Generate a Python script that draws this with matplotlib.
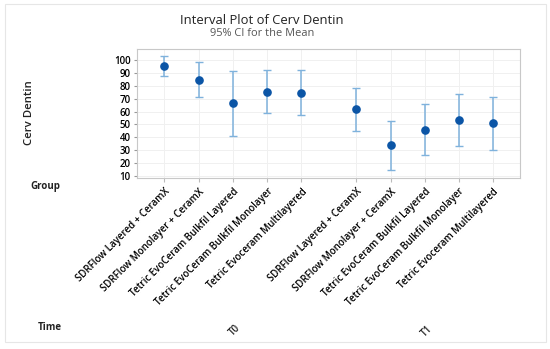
import matplotlib.pyplot as plt
from matplotlib.patches import Rectangle

# data
groups = ["SDRFlow Layered + CeramX", "SDRFlow Monolayer + CeramX",
          "Tetric EvoCeram Bulkfil Layered", "Tetric EvoCeram Bulkfil Monolayer",
          "Tetric Evoceram Multilayered"]
times = ["T0", "T1"]
means_t0 = [95.1, 84.5, 66.4, 75.4, 74.6]
low_t0 = [87.4, 71.3, 41.0, 58.6, 57.6]
high_t0 = [102.9, 98.2, 91.7, 92.2, 92.0]
means_t1 = [61.7, 33.8, 45.9, 53.5, 50.9]
low_t1 = [44.9, 14.9, 26.5, 33.0, 30.2]
high_t1 = [78.3, 52.4, 65.6, 73.4, 71.3]
yticks = [10, 20, 30, 40, 50, 60, 70, 80, 90, 100]

plt.rcParams['font.family'] = ['Open Sans', 'DejaVu Sans']

fig = plt.figure(figsize=(5.5, 3.49), dpi=100)
ax = fig.add_axes([137/550, 1-178/349, (520-137)/550, (178-49)/349])

gap = 1.6
xs, means, lows, highs, labels = [], [], [], [], []
for k, (m, lo, hi) in enumerate([(means_t0, low_t0, high_t0), (means_t1, low_t1, high_t1)]):
    for i in range(len(groups)):
        xs.append(i + k * (len(groups) - 1 + gap))
        means.append(m[i])
        lows.append(lo[i])
        highs.append(hi[i])
        labels.append(groups[i])

err = [[m - lo for m, lo in zip(means, lows)], [hi - m for m, hi in zip(means, highs)]]
ax.errorbar(xs, means, yerr=err, fmt='none', ecolor='#7fb2dc', elinewidth=1.1,
            capsize=2.6, capthick=1.0, zorder=2)
ax.plot(xs, means, 'o', color='#0b55a6', markersize=5.2, zorder=3)

ax.set_xlim(-0.8, xs[-1] + 0.78)
ax.set_ylim(8.5, 108.5)
ax.set_yticks(yticks)
ax.set_xticks(xs)
ax.set_xticklabels(labels, rotation=45, ha='right', va='top', rotation_mode='anchor',
                   fontsize=7, fontweight='semibold')
ax.tick_params(axis='y', labelsize=7, length=2.5, color='#999999', pad=2)
ax.tick_params(axis='x', length=3, color='#bbbbbb', pad=3)
for lbl in ax.get_yticklabels():
    lbl.set_fontweight('semibold')
ax.grid(True, color='#f0f0f0', linewidth=0.7)
ax.set_axisbelow(True)
for s in ax.spines.values():
    s.set_color('#c8c8c8')
    s.set_linewidth(0.8)

fig.text(262/550, 1-20.5/349, "Interval Plot of Cerv Dentin", ha='center', va='center',
         fontsize=9.4, color='#222222')
fig.text(262/550, 1-33/349, "95% CI for the Mean", ha='center', va='center',
         fontsize=7.9, color='#555555')
fig.text(29/550, 1-113/349, "Cerv Dentin", rotation=90, ha='center', va='center',
         fontsize=8.2, fontweight='semibold', color='#222222')
fig.text(45/550, 1-187/349, "Group", ha='center', va='center',
         fontsize=7, fontweight='bold', color='#222222')
fig.text(50/550, 1-327/349, "Time", ha='center', va='center',
         fontsize=7, fontweight='bold', color='#222222')

n = len(groups)
for k, t in enumerate(times):
    cx = (xs[k * n] + xs[k * n + n - 1]) / 2
    xf = fig.transFigure.inverted().transform(ax.transData.transform((cx, 0)))[0]
    fig.text(xf + 2/550, 1-323/349, t, rotation=45, ha='right', va='top',
             rotation_mode='anchor', fontsize=7, fontweight='semibold', color='#222222')

fig.patches.append(Rectangle((5/550, 7/349), 541/550, 338/349, transform=fig.transFigure,
                             fill=False, edgecolor='#e6e6e6', linewidth=0.8))

fig.savefig('out.png', dpi=100)
